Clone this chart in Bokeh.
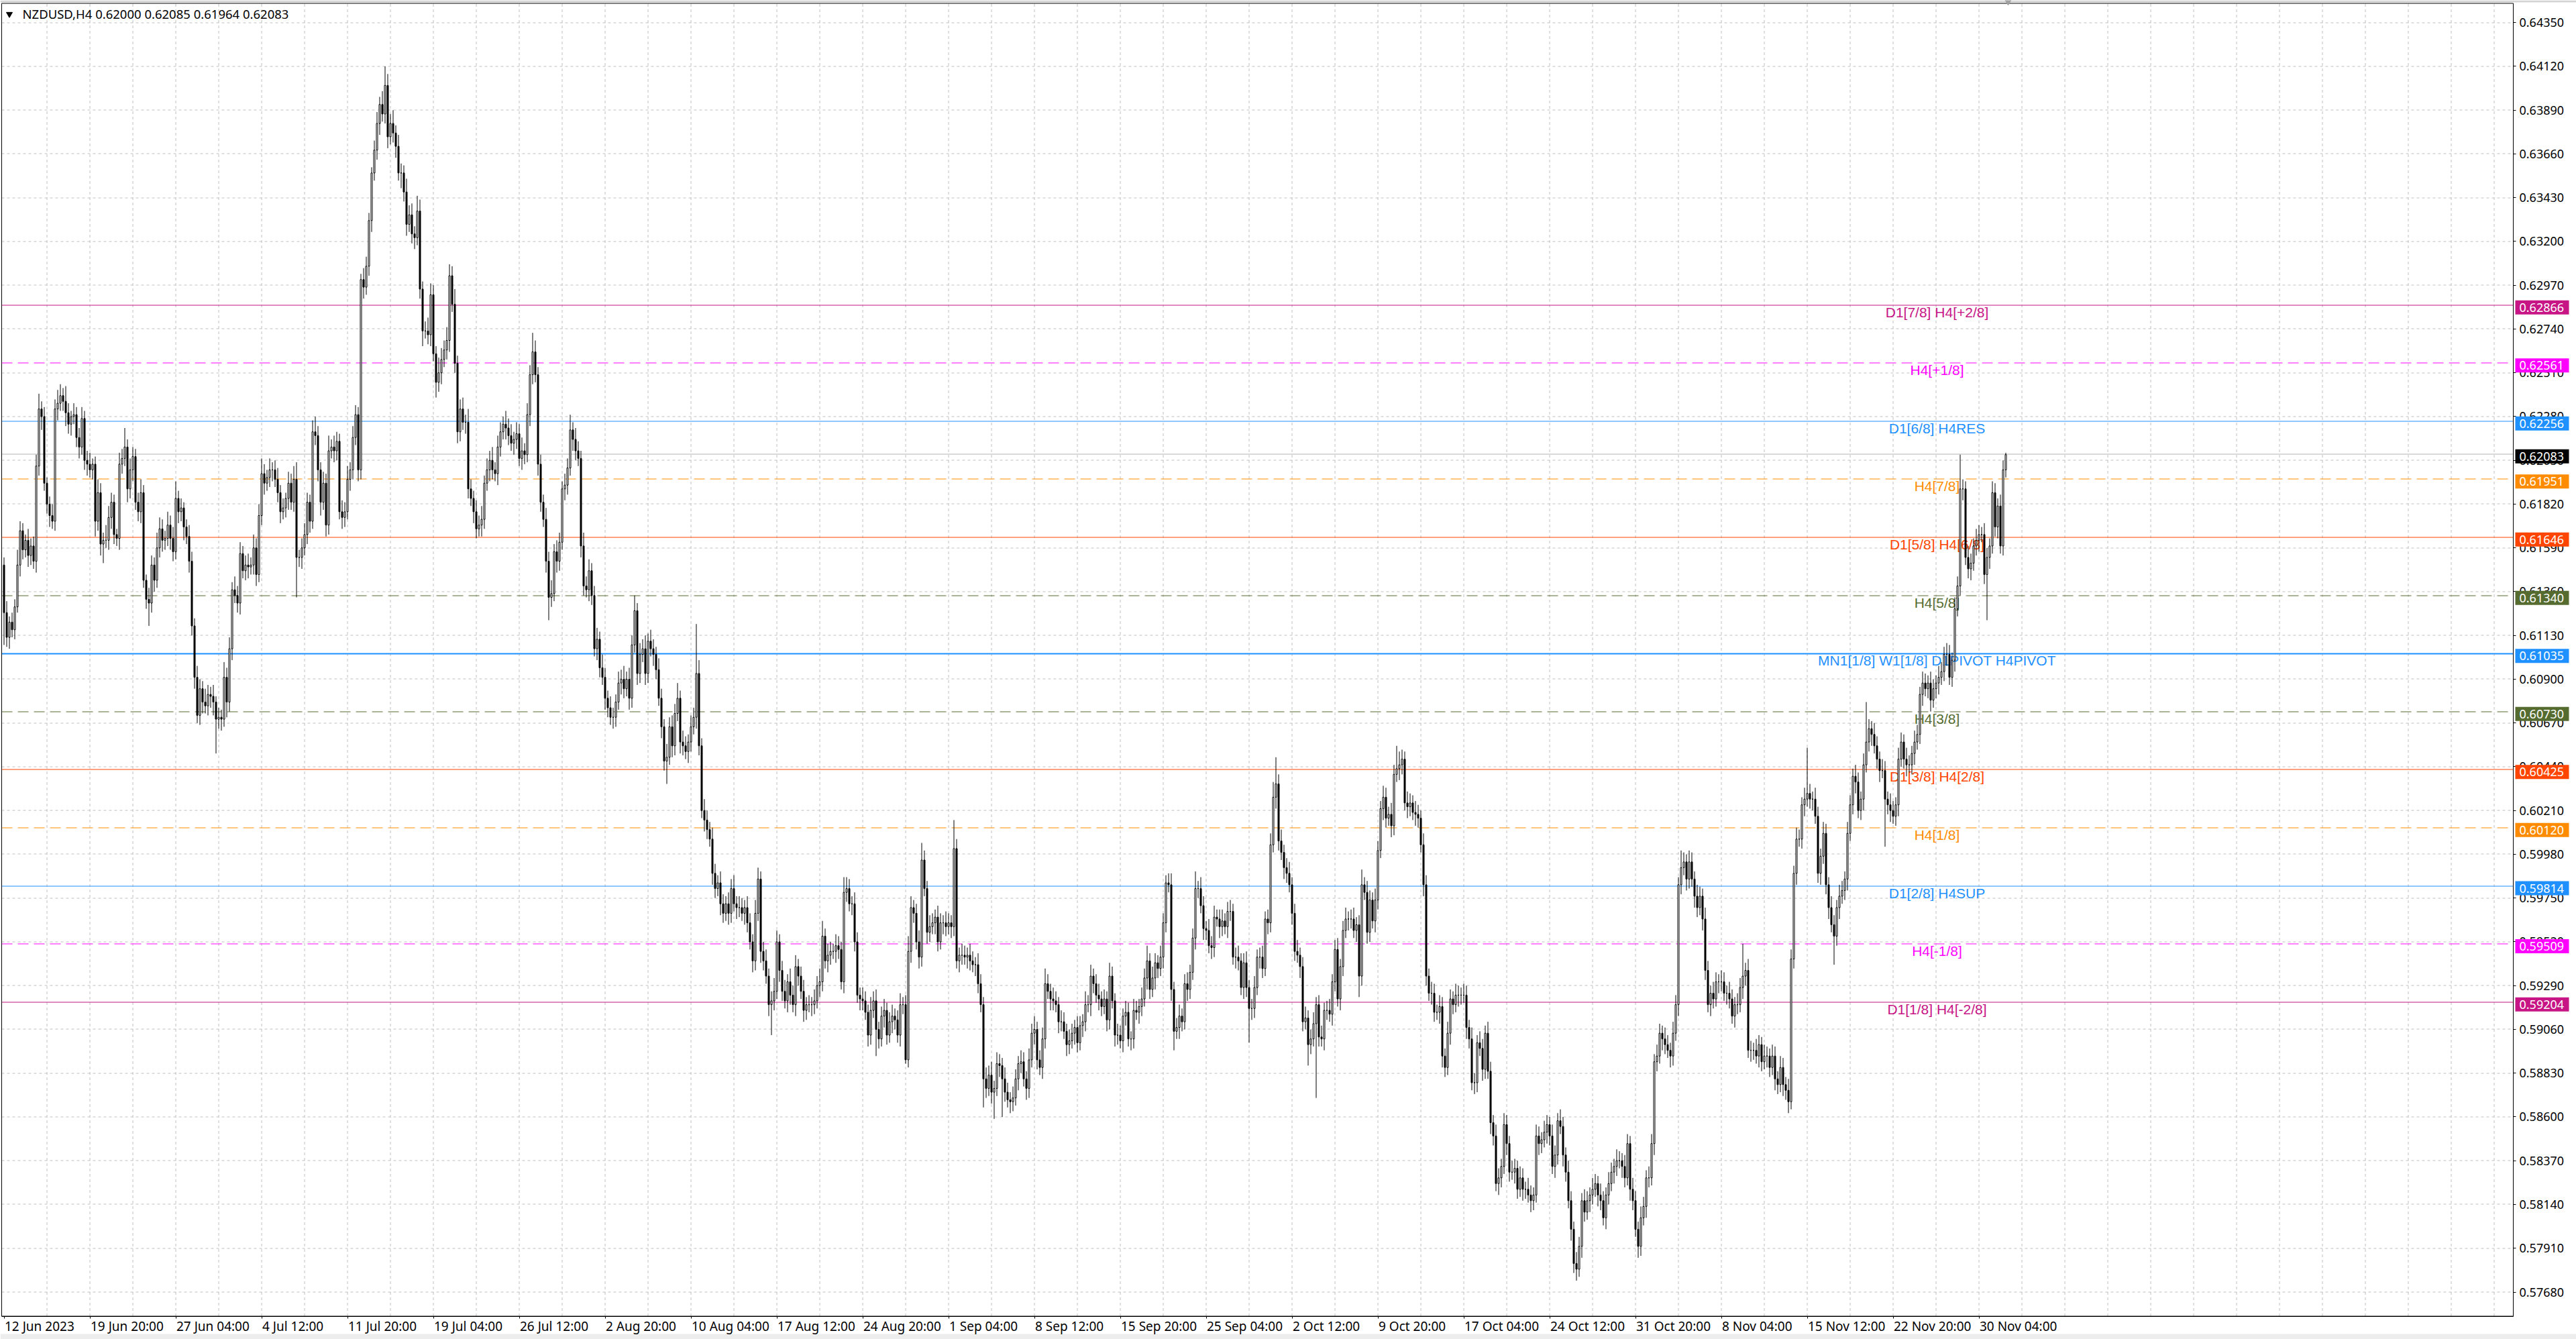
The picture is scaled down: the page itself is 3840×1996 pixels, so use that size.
import math
from bokeh.plotting import figure
from bokeh.models import Range1d, LinearAxis, FixedTicker, PrintfTickFormatter, ColumnDataSource
from bokeh.core.properties import value
from bokeh.embed import file_html
from bokeh.resources import INLINE

title_text = "NZDUSD,H4  0.62000 0.62085 0.61964 0.62083"
last_price = 0.62083
first_open = 6150  # price x 1e4

# H4 closes, price x 1e4, 12 Jun 2023 12:00 .. 1 Dec 2023 20:00
closes = [
    6125, 6112, 6120, 6116, 6128, 6150, 6168, 6158, 6163, 6155,
    6160, 6152, 6202, 6232, 6228, 6193, 6182, 6176, 6173, 6232,
    6235, 6239, 6236, 6230, 6224, 6228, 6229, 6217, 6212, 6227,
    6205, 6203, 6200, 6203, 6173, 6188, 6161, 6163, 6163, 6175,
    6183, 6166, 6164, 6203, 6206, 6212, 6190, 6200, 6207, 6183,
    6178, 6188, 6142, 6132, 6130, 6150, 6142, 6159, 6169, 6163,
    6164, 6171, 6164, 6157, 6185, 6178, 6180, 6170, 6165, 6152,
    6118, 6091, 6071, 6085, 6078, 6076, 6082, 6081, 6078, 6069,
    6070, 6069, 6091, 6078, 6106, 6137, 6134, 6130, 6156, 6147,
    6150, 6149, 6150, 6159, 6145, 6176, 6198, 6193, 6196, 6200,
    6200, 6195, 6188, 6178, 6180, 6185, 6193, 6183, 6195, 6154,
    6154, 6159, 6166, 6183, 6173, 6220, 6218, 6200, 6183, 6193,
    6171, 6210, 6212, 6210, 6215, 6178, 6175, 6178, 6195, 6200,
    6217, 6229, 6200, 6300, 6296, 6307, 6331, 6356, 6368, 6382,
    6392, 6387, 6402, 6375, 6382, 6377, 6370, 6356, 6356, 6346,
    6329, 6334, 6324, 6322, 6336, 6295, 6273, 6273, 6271, 6292,
    6261, 6246, 6251, 6258, 6263, 6268, 6302, 6287, 6256, 6220,
    6232, 6225, 6225, 6190, 6185, 6178, 6169, 6171, 6174, 6193,
    6200, 6205, 6200, 6198, 6212, 6220, 6224, 6222, 6218, 6214,
    6216, 6219, 6206, 6210, 6208, 6229, 6250, 6262, 6250, 6203,
    6183, 6174, 6152, 6133, 6135, 6157, 6152, 6162, 6190, 6192,
    6201, 6221, 6216, 6210, 6206, 6160, 6139, 6137, 6147, 6134,
    6106, 6111, 6096, 6091, 6080, 6075, 6070, 6070, 6078, 6088,
    6090, 6085, 6090, 6080, 6108, 6126, 6093, 6103, 6106, 6093,
    6110, 6106, 6103, 6095, 6080, 6065, 6047, 6049, 6065, 6055,
    6072, 6080, 6057, 6055, 6052, 6057, 6065, 6070, 6093, 6055,
    6021, 6016, 6011, 6006, 5988, 5980, 5983, 5972, 5967, 5972,
    5967, 5980, 5972, 5970, 5970, 5967, 5970, 5962, 5952, 5942,
    5967, 5985, 5947, 5942, 5934, 5919, 5921, 5926, 5952, 5937,
    5926, 5921, 5931, 5924, 5919, 5939, 5934, 5926, 5916, 5919,
    5919, 5919, 5921, 5929, 5931, 5955, 5942, 5945, 5947, 5947,
    5950, 5948, 5931, 5978, 5980, 5972, 5972, 5952, 5924, 5922,
    5921, 5915, 5903, 5916, 5921, 5906, 5901, 5913, 5916, 5903,
    5910, 5913, 5911, 5903, 5919, 5919, 5890, 5947, 5970, 5967,
    5952, 5944, 5995, 5980, 5957, 5960, 5962, 5965, 5952, 5962,
    5962, 5960, 5962, 5960, 6001, 5942, 5945, 5945, 5944, 5945,
    5942, 5940, 5940, 5930, 5919, 5880, 5875, 5882, 5873, 5875,
    5888, 5887, 5880, 5873, 5869, 5868, 5870, 5880, 5888, 5889,
    5880, 5875, 5890, 5904, 5906, 5890, 5886, 5901, 5930, 5926,
    5922, 5921, 5919, 5910, 5910, 5905, 5898, 5900, 5904, 5907,
    5899, 5908, 5910, 5919, 5919, 5934, 5930, 5924, 5922, 5918,
    5922, 5911, 5934, 5921, 5903, 5903, 5900, 5913, 5915, 5901,
    5901, 5916, 5915, 5918, 5922, 5933, 5942, 5927, 5933, 5941,
    5938, 5944, 5962, 5983, 5982, 5927, 5905, 5907, 5913, 5910,
    5930, 5927, 5936, 5954, 5980, 5980, 5971, 5959, 5958, 5950,
    5949, 5965, 5964, 5960, 5963, 5960, 5968, 5968, 5944, 5944,
    5942, 5928, 5941, 5928, 5917, 5917, 5928, 5944, 5944, 5938,
    5964, 5962, 6003, 6028, 6035, 6005, 5999, 5991, 5988, 5982,
    5967, 5947, 5945, 5939, 5910, 5912, 5898, 5901, 5909, 5919,
    5902, 5901, 5916, 5916, 5914, 5931, 5948, 5922, 5939, 5958,
    5964, 5964, 5964, 5958, 5961, 5934, 5982, 5978, 5957, 5974,
    5963, 5974, 6000, 6022, 6028, 6017, 6019, 6013, 6040, 6043,
    6045, 6048, 6025, 6023, 6025, 6020, 6019, 6017, 6003, 5982,
    5934, 5925, 5925, 5915, 5915, 5918, 5892, 5886, 5904, 5922,
    5919, 5924, 5924, 5924, 5924, 5907, 5901, 5878, 5878, 5899,
    5896, 5885, 5904, 5884, 5857, 5850, 5825, 5828, 5834, 5856,
    5846, 5831, 5831, 5833, 5822, 5828, 5822, 5822, 5819, 5816,
    5819, 5850, 5846, 5848, 5852, 5856, 5850, 5834, 5840, 5858,
    5855, 5840, 5831, 5816, 5801, 5783, 5780, 5792, 5816, 5810,
    5816, 5819, 5822, 5825, 5819, 5816, 5807, 5819, 5825, 5831,
    5834, 5837, 5837, 5834, 5828, 5846, 5822, 5816, 5801, 5792,
    5807, 5813, 5828, 5828, 5846, 5889, 5892, 5904, 5901, 5898,
    5895, 5892, 5904, 5919, 5982, 5991, 5994, 5985, 5994, 5985,
    5976, 5970, 5976, 5964, 5937, 5919, 5925, 5922, 5931, 5931,
    5931, 5925, 5925, 5922, 5913, 5919, 5919, 5928, 5934, 5937,
    5895, 5895, 5895, 5892, 5898, 5889, 5892, 5892, 5886, 5892,
    5880, 5877, 5886, 5877, 5874, 5868, 5943, 5988, 6006, 6006,
    6024, 6027, 6030, 6027, 6027, 6018, 5988, 5997, 6009, 5982,
    5970, 5961, 5955, 5970, 5976, 5979, 5985, 6009, 6024, 6039,
    6036, 6021, 6027, 6045, 6057, 6064, 6061, 6055, 6048, 6042,
    6042, 6027, 6024, 6021, 6018, 6024, 6048, 6057, 6048, 6045,
    6045, 6051, 6057, 6061, 6082, 6088, 6085, 6088, 6079, 6085,
    6088, 6091, 6094, 6103, 6103, 6091, 6100, 6127, 6139, 6190,
    6190, 6154, 6148, 6151, 6160, 6163, 6166, 6166, 6145, 6154,
    6160, 6188, 6170, 6181, 6160, 6200, 6208,
]

# upper / lower shadow lengths in pips (1e-4)
wick_up = [
    4, 6, 3, 5, 4, 8, 5, 4, 3, 6,  4, 5, 6, 8, 4, 5, 3, 4, 6, 5,
    7, 6, 4, 8, 5, 3, 6, 4, 5, 6,  4, 5, 6, 3, 4, 7, 5, 4, 8, 6,
    5, 4, 3, 6, 5, 10, 4, 6, 5, 4,  5, 7, 4, 3, 6, 5, 4, 8, 6, 5,
    4, 7, 5, 6, 9, 4, 5, 3, 4, 6,  5, 4, 6, 5, 4, 7, 5, 4, 6, 3,
    5, 4, 8, 5, 6, 4, 7, 5, 6, 4,  5, 6, 4, 7, 5, 6, 8, 5, 4, 6,
    4, 5, 6, 4, 5, 3, 6, 5, 7, 9,  4, 5, 6, 5, 4, 6, 8, 5, 4, 6,
    5, 8, 4, 6, 5, 4, 6, 5, 7, 4,  6, 5, 4, 3, 6, 5, 4, 3, 5, 6,
    4, 7, 10, 6, 5, 7, 4, 6, 5, 4,  7, 5, 6, 4, 8, 6, 4, 5, 7, 6,
    5, 4, 8, 6, 5, 7, 6, 5, 8, 4,  5, 6, 4, 7, 5, 4, 6, 5, 7, 4,
    6, 5, 7, 4, 6, 5, 4, 7, 5, 6,  4, 6, 5, 7, 4, 6, 5, 10, 6, 4,
    5, 4, 6, 5, 7, 4, 6, 5, 4, 6,  5, 8, 4, 6, 5, 4, 7, 5, 6, 4,
    5, 6, 4, 7, 5, 4, 6, 5, 4, 6,  5, 7, 4, 6, 5, 8, 4, 6, 5, 7,
    4, 6, 5, 4, 6, 5, 4, 7, 5, 6,  5, 8, 4, 6, 5, 4, 6, 5, 26, 7,
    4, 6, 5, 4, 6, 5, 4, 6, 5, 4,  6, 5, 7, 4, 6, 5, 4, 6, 5, 4,
    7, 6, 4, 5, 6, 4, 5, 7, 6, 4,  5, 6, 4, 7, 5, 6, 4, 5, 6, 4,
    5, 4, 6, 5, 7, 8, 4, 6, 5, 4,  6, 5, 4, 8, 6, 5, 4, 6, 5, 4,
    6, 5, 4, 7, 5, 6, 4, 5, 6, 4,  5, 6, 4, 5, 6, 4, 5, 8, 6, 4,
    5, 6, 9, 5, 4, 6, 5, 4, 6, 5,  4, 6, 5, 4, 15, 5, 4, 6, 5, 4,
    6, 5, 4, 6, 5, 4, 6, 5, 7, 4,  6, 5, 4, 6, 5, 4, 6, 5, 4, 6,
    5, 4, 6, 5, 7, 4, 5, 6, 8, 5,  4, 6, 5, 4, 6, 5, 4, 6, 5, 4,
    6, 5, 4, 7, 5, 6, 4, 5, 6, 4,  5, 4, 7, 5, 4, 6, 5, 4, 6, 5,
    4, 6, 5, 4, 6, 5, 8, 4, 6, 5,  4, 6, 5, 4, 5, 6, 4, 5, 6, 4,
    5, 6, 4, 5, 9, 4, 6, 5, 4, 6,  5, 6, 4, 5, 6, 4, 5, 6, 4, 5,
    6, 4, 5, 6, 4, 5, 6, 4, 5, 6,  4, 5, 6, 8, 14, 5, 6, 4, 5, 6,
    4, 5, 6, 4, 5, 6, 4, 5, 6, 4,  5, 6, 4, 5, 6, 4, 5, 6, 4, 5,
    6, 4, 5, 6, 4, 5, 8, 4, 6, 5,  4, 6, 5, 4, 6, 5, 4, 6, 5, 12,
    7, 5, 4, 6, 5, 4, 6, 5, 4, 6,  5, 4, 6, 5, 4, 6, 5, 4, 6, 5,
    4, 6, 5, 4, 6, 5, 4, 6, 5, 4,  6, 5, 4, 6, 5, 4, 6, 5, 4, 6,
    5, 4, 6, 5, 4, 6, 5, 4, 6, 5,  4, 6, 5, 4, 6, 5, 4, 6, 5, 4,
    6, 5, 4, 6, 5, 4, 6, 5, 4, 6,  5, 4, 6, 5, 4, 6, 5, 4, 6, 5,
    4, 6, 5, 4, 6, 5, 4, 6, 5, 4,  6, 5, 4, 6, 5, 4, 6, 5, 4, 6,
    5, 4, 6, 5, 4, 9, 5, 4, 6, 5,  4, 6, 5, 4, 6, 5, 4, 6, 5, 4,
    6, 5, 4, 6, 5, 4, 6, 5, 17, 4,  6, 5, 4, 6, 5, 4, 6, 5, 4, 6,
    5, 4, 6, 5, 4, 6, 5, 4, 6, 5,  4, 6, 24, 5, 4, 6, 5, 4, 6, 5,
    4, 6, 5, 4, 6, 5, 4, 6, 5, 4,  6, 5, 4, 6, 21, 5, 4, 6, 5, 4,
    6, 5, 4, 6, 5, 4, 6, 5, 4, 6,  5, 4, 6, 5, 4, 6, 5, 4, 6, 5,
    4, 6, 5, 4, 6, 5, 4, 6, 5, 18,  5, 4, 6, 5, 4, 6, 5, 4, 6, 5,
    4, 6, 5, 4, 6, 5, 1,
]
wick_dn = [
    17, 5, 6, 4, 5, 3, 6, 5, 4, 6,  5, 4, 6, 5, 7, 4, 5, 6, 4, 5,
    6, 4, 5, 7, 5, 6, 4, 5, 6, 4,  5, 6, 4, 5, 8, 5, 6, 10, 4, 5,
    6, 5, 4, 6, 5, 4, 7, 5, 6, 4,  5, 6, 4, 5, 12, 5, 6, 4, 5, 6,
    5, 4, 6, 5, 4, 6, 5, 7, 4, 6,  5, 6, 4, 5, 6, 4, 5, 6, 7, 18,
    5, 6, 4, 8, 5, 6, 4, 5, 6, 4,  5, 6, 4, 5, 6, 4, 5, 6, 4, 5,
    6, 4, 5, 6, 4, 5, 6, 4, 5, 21,  5, 6, 4, 5, 6, 4, 5, 6, 7, 4,
    6, 5, 4, 6, 5, 4, 6, 5, 4, 6,  5, 4, 6, 5, 6, 4, 5, 6, 4, 5,
    6, 4, 5, 6, 4, 5, 6, 4, 8, 5,  6, 4, 5, 6, 4, 5, 8, 4, 5, 6,
    4, 8, 5, 6, 4, 5, 6, 4, 5, 6,  5, 4, 6, 5, 4, 6, 5, 4, 6, 5,
    4, 6, 5, 4, 6, 5, 4, 6, 5, 4,  6, 5, 4, 6, 5, 4, 6, 5, 4, 6,
    5, 4, 6, 12, 5, 4, 6, 5, 4, 6,  5, 4, 6, 5, 4, 6, 5, 4, 6, 5,
    4, 6, 5, 4, 6, 5, 4, 6, 5, 4,  6, 5, 4, 6, 5, 4, 6, 5, 4, 6,
    5, 4, 6, 5, 4, 6, 5, 12, 4, 6,  5, 4, 6, 5, 4, 6, 5, 4, 6, 5,
    4, 6, 5, 4, 6, 5, 4, 6, 5, 4,  6, 5, 4, 6, 5, 4, 6, 5, 4, 6,
    5, 4, 6, 5, 4, 6, 16, 5, 4, 6,  5, 4, 6, 5, 4, 6, 5, 4, 6, 5,
    4, 6, 5, 4, 6, 5, 4, 6, 5, 4,  6, 5, 4, 6, 5, 4, 6, 5, 4, 6,
    5, 4, 6, 5, 4, 14, 5, 4, 6, 5,  4, 6, 5, 4, 6, 5, 2, 4, 6, 5,
    4, 6, 5, 4, 6, 5, 4, 6, 5, 4,  6, 5, 4, 6, 5, 4, 6, 5, 4, 6,
    5, 4, 6, 5, 4, 15, 5, 4, 6, 14,  4, 6, 20, 5, 4, 6, 5, 4, 6, 5,
    4, 6, 5, 4, 6, 5, 4, 6, 5, 4,  6, 5, 4, 6, 5, 4, 6, 5, 4, 6,
    5, 4, 6, 5, 4, 6, 5, 4, 6, 5,  4, 6, 5, 4, 6, 5, 4, 6, 5, 4,
    6, 5, 4, 6, 5, 4, 6, 5, 4, 6,  5, 4, 6, 5, 4, 6, 10, 4, 6, 5,
    4, 6, 5, 4, 6, 5, 4, 6, 5, 4,  6, 5, 4, 6, 5, 4, 6, 5, 4, 6,
    5, 4, 6, 5, 18, 6, 5, 4, 6, 5,  4, 6, 5, 4, 6, 5, 4, 6, 5, 4,
    6, 5, 4, 6, 5, 4, 11, 5, 4, 39,  5, 4, 6, 5, 4, 6, 5, 4, 6, 5,
    4, 6, 5, 4, 6, 11, 5, 4, 6, 5,  4, 6, 5, 4, 6, 5, 4, 6, 5, 4,
    6, 5, 4, 6, 5, 4, 6, 5, 4, 6,  5, 4, 6, 5, 4, 6, 6, 5, 4, 6,
    5, 4, 6, 5, 4, 6, 5, 4, 6, 5,  4, 6, 5, 4, 6, 5, 4, 6, 5, 4,
    6, 5, 4, 6, 5, 4, 6, 5, 4, 6,  5, 4, 6, 5, 4, 6, 5, 4, 6, 5,
    4, 6, 5, 4, 6, 5, 6, 4, 6, 5,  4, 6, 5, 4, 6, 5, 4, 6, 5, 4,
    6, 5, 4, 6, 5, 4, 6, 5, 4, 6,  5, 4, 6, 5, 4, 6, 5, 4, 6, 5,
    4, 6, 5, 4, 6, 5, 4, 6, 5, 4,  6, 5, 4, 6, 5, 4, 6, 5, 4, 6,
    5, 4, 6, 5, 4, 6, 5, 4, 6, 5,  4, 6, 5, 4, 6, 5, 4, 6, 5, 4,
    6, 5, 4, 6, 5, 6, 4, 5, 6, 4,  5, 6, 4, 5, 6, 4, 5, 6, 4, 5,
    6, 4, 15, 5, 6, 4, 5, 6, 4, 5,  6, 4, 5, 6, 4, 5, 6, 4, 5, 6,
    4, 25, 5, 6, 4, 5, 6, 4, 5, 6,  4, 5, 6, 4, 5, 6, 4, 5, 6, 4,
    5, 6, 4, 5, 6, 4, 5, 6, 4, 5,  6, 4, 5, 6, 4, 5, 6, 4, 5, 24,
    6, 4, 5, 6, 4, 5, 4,
]

date_labels = ["12 Jun 2023", "19 Jun 20:00", "27 Jun 04:00", "4 Jul 12:00", "11 Jul 20:00",
               "19 Jul 04:00", "26 Jul 12:00", "2 Aug 20:00", "10 Aug 04:00", "17 Aug 12:00",
               "24 Aug 20:00", "1 Sep 04:00", "8 Sep 12:00", "15 Sep 20:00", "25 Sep 04:00",
               "2 Oct 12:00", "9 Oct 20:00", "17 Oct 04:00", "24 Oct 12:00", "31 Oct 20:00",
               "8 Nov 04:00", "15 Nov 12:00", "22 Nov 20:00", "30 Nov 04:00"]
bars_per_label = 32
bars_per_grid = 16

price_ticks = [0.64350, 0.64120, 0.63890, 0.63660, 0.63430, 0.63200, 0.62970, 0.62740,
               0.62510, 0.62280, 0.62050, 0.61820, 0.61590, 0.61360, 0.61130, 0.60900,
               0.60670, 0.60440, 0.60210, 0.59980, 0.59750, 0.59520, 0.59290, 0.59060,
               0.58830, 0.58600, 0.58370, 0.58140, 0.57910, 0.57680]

level_prices = [0.62866, 0.62561, 0.62256, 0.61951, 0.61646, 0.61340, 0.61035,
                0.60730, 0.60425, 0.60120, 0.59814, 0.59509, 0.59204]
level_names = ["D1[7/8] H4[+2/8]", "H4[+1/8]", "D1[6/8] H4RES", "H4[7/8]", "D1[5/8] H4[6/8]",
               "H4[5/8]", "MN1[1/8] W1[1/8] D1PIVOT H4PIVOT", "H4[3/8]", "D1[3/8] H4[2/8]",
               "H4[1/8]", "D1[2/8] H4SUP", "H4[-1/8]", "D1[1/8] H4[-2/8]"]
level_colors = ["#C71585", "#FF00FF", "#1E90FF", "#FF8C00", "#FF4500", "#556B2F", "#1E90FF",
                "#556B2F", "#FF4500", "#FF8C00", "#1E90FF", "#FF00FF", "#C71585"]
level_dashed = [False, True, False, True, False, True, False, True, False, True, False, True, False]
level_width = [1, 1, 1, 1, 1, 1, 2, 1, 1, 1, 1, 1, 1]

# ---------------------------------------------------------------------------
W, H = 3840, 1996
PX_PER_BAR = 4.0
BAR0_PX = 5.5          # screen x of the first bar
PX_PER_PRICE = 28370.0
P0, P0_PX = 0.5768, 1925.5


def bx(px):   # screen x -> bar coordinate
    return (px - BAR0_PX) / PX_PER_BAR


def py(px):   # screen y -> price
    return P0 + (P0_PX - px) / PX_PER_PRICE


def sy(v):    # price -> screen y
    return P0_PX - (v - P0) * PX_PER_PRICE


def dp(px):   # pixel distance -> price distance
    return px / PX_PER_PRICE


def crisp(v, w=1):   # nudge a horizontal line onto the pixel grid
    y = sy(v)
    return py(math.floor(y) + 0.5) if w % 2 else py(round(y))


L, R, T, B = bx(2), bx(3746), py(4.5), py(1961.5)   # chart frame (MT4 window)

n = min(len(closes), len(wick_up), len(wick_dn))
opens = ([first_open] + closes[:-1])[:n]
xs = list(range(n))
o = [v / 1e4 for v in opens]
c = [v / 1e4 for v in closes[:n]]
top = [max(a, b) for a, b in zip(o, c)]
bot = [min(a, b) for a, b in zip(o, c)]
hi = [t + u / 1e4 for t, u in zip(top, wick_up[:n])]
lo = [b - d / 1e4 for b, d in zip(bot, wick_dn[:n])]
fill = ["white" if cc >= oo else "black" for oo, cc in zip(o, c)]

p = figure(width=W, height=H, x_range=Range1d(bx(0), bx(W)), y_range=Range1d(py(H), py(0)),
           output_backend="svg", toolbar_location=None, min_border=0,
           x_axis_location=None, y_axis_location=None)
p.background_fill_color = "white"
p.border_fill_color = "white"
p.outline_line_color = None
p.xgrid.visible = False
p.ygrid.visible = False

# window edges
p.quad(left=[bx(0)], right=[bx(W)], top=[py(0)], bottom=[py(3)], fill_color="#D4D4D4", line_color=None)
p.quad(left=[bx(0)], right=[bx(W)], top=[py(1988)], bottom=[py(H)], fill_color="#EDEDED", line_color=None)

# grid (dashed, inside the chart frame only)
gx = [bars_per_grid * k for k in range(1, int(R // bars_per_grid) + 1)]
p.segment(x0=gx, x1=gx, y0=[B] * len(gx), y1=[T] * len(gx), line_color="#C0C0C0",
          line_dash="4 4", line_width=1)
gy = [crisp(v) for v in price_ticks]
p.segment(x0=[L] * len(gy), x1=[R] * len(gy), y0=gy, y1=gy,
          line_color="#C0C0C0", line_dash="4 4", line_width=1)

# level lines
for price, col, dsh, lw in zip(level_prices, level_colors, level_dashed, level_width):
    yy = crisp(price, lw)
    p.segment(x0=[L], y0=[yy], x1=[R], y1=[yy], line_color=col, line_width=lw,
              line_dash="16 8" if dsh else "solid")
yy = crisp(last_price)
p.segment(x0=[L], y0=[yy], x1=[R], y1=[yy], line_color="#B4B4B4", line_width=1)

label_bar = bx(2887)
p.text(x=[label_bar] * len(level_prices), y=[v - dp(10.5) for v in level_prices], text=level_names,
       text_color=level_colors, text_align="center", text_baseline="middle",
       text_font=value("Liberation Sans"), text_font_size="21px")

# candles
src = ColumnDataSource(dict(x=xs, hi=hi, lo=lo, top=top, bot=bot, fill=fill))
p.segment(x0="x", y0="lo", x1="x", y1="hi", source=src, line_color="black", line_width=1)
p.vbar(x="x", width=0.5, top="top", bottom="bot", source=src, fill_color="fill",
       line_color="black", line_width=1)

# chart frame
p.quad(left=[L], right=[R], top=[T], bottom=[B], fill_color=None, line_color="black", line_width=1)

# price axis (right of the frame)
yax = LinearAxis(fixed_location=R, bounds=(B, T),
                 ticker=FixedTicker(ticks=price_ticks, minor_ticks=[]),
                 formatter=PrintfTickFormatter(format="%.5f"),
                 major_tick_out=4, major_tick_in=0, minor_tick_out=0, minor_tick_in=0,
                 major_label_standoff=5, axis_line_color="black", major_tick_line_color="black",
                 major_label_text_font="Noto Sans", major_label_text_font_size="18px",
                 major_label_text_color="black")
p.add_layout(yax, "right")

# time axis (below the frame): ticks from the axis, left-aligned labels as text
tick_bars = [k * bars_per_label for k in range(len(date_labels))]
xax = LinearAxis(fixed_location=B, bounds=(L, R),
                 ticker=FixedTicker(ticks=tick_bars, minor_ticks=[]),
                 major_label_overrides={b: "" for b in tick_bars},
                 major_tick_out=3, major_tick_in=0, minor_tick_out=0, minor_tick_in=0,
                 axis_line_color="black", major_tick_line_color="black")
p.add_layout(xax, "below")
p.text(x=tick_bars, y=[py(1976)] * len(tick_bars), text=date_labels, x_offset=1,
       text_align="left", text_baseline="middle", text_font=value("Noto Sans"),
       text_font_size="19px", text_color="black")

# title
p.scatter(x=[bx(13.5)], y=[py(20.5)], marker="inverted_triangle", size=9, fill_color="black",
          line_color="black")
p.text(x=[bx(33)], y=[py(20)], text=[title_text], text_align="left", text_baseline="middle",
       text_font=value("Noto Sans"), text_font_size="18.5px", text_color="black")

# chart-shift marker
p.scatter(x=[bx(2993)], y=[py(1)], marker="inverted_triangle", size=11, fill_color="#A0A0A0",
          line_color="#A0A0A0")

# price tags on the axis
tag_p = level_prices + [last_price]
tag_c = level_colors + ["black"]
tag_src = ColumnDataSource(dict(
    x=[bx(3789)] * len(tag_p), y=[v - dp(3.5) for v in tag_p],
    tx=[bx(3755)] * len(tag_p), ty=[v - dp(3.5) for v in tag_p],
    txt=[f"{v:.5f}" for v in tag_p], col=tag_c))
r1 = p.rect(x="x", y="y", width=80 / PX_PER_BAR, height=dp(21), source=tag_src,
            fill_color="col", line_color=None)
r2 = p.text(x="tx", y="ty", text="txt", source=tag_src, text_color="white", text_align="left",
            text_baseline="middle", text_font=value("Noto Sans"), text_font_size="18px")
r1.level = "overlay"
r2.level = "overlay"

open("out.html", "w").write(file_html(p, INLINE))
